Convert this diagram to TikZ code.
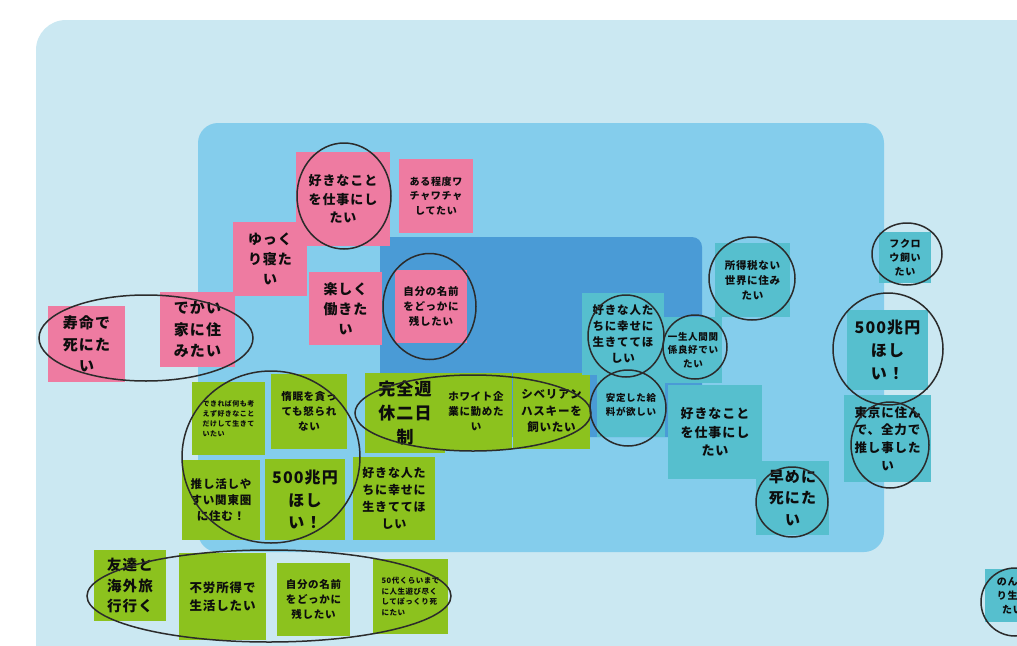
\documentclass[tikz,border=0pt]{standalone}
\usepackage{fontspec}
\newfontfamily\jpfont{Noto Sans CJK JP}[LetterSpace=7]
\definecolor{bgouter}{HTML}{CBE8F2}
\definecolor{bgmid}{HTML}{84CDEC}
\definecolor{bginner}{HTML}{4A9BD6}
\definecolor{notepink}{HTML}{EE7BA1}
\definecolor{notegreen}{HTML}{8CC21E}
\definecolor{noteteal}{HTML}{56BFCE}
\definecolor{inkdark}{HTML}{2B2B2B}
\newcommand\fz[1]{\jpfont\bfseries\fontsize{#1}{\fpeval{#1*1.42}}\selectfont}
\tikzset{
  note/.style={inner sep=0pt, align=center, text=black!95},
  pinknote/.style={note, fill=notepink},
  greennote/.style={note, fill=notegreen},
  tealnote/.style={note, fill=noteteal},
  ring/.style={draw=inkdark, line width=1.5pt},
}
\begin{document}
\begin{tikzpicture}[x=1pt,y=-1pt]
\useasboundingbox (0,0) rectangle (1017,645);
\clip (0,0) rectangle (1017,645);
% background areas
\fill[bgouter, rounded corners=30pt] (36,20) rectangle (1080,700);
\fill[bgmid, rounded corners=20pt] (198,123) rectangle (884,552);
\fill[bginner, rounded corners=10pt] (380,237) rectangle (702,437);

% pink notes
\node[pinknote, minimum width=94, minimum height=94, font=\fz{13}] (p1) at (343,199) {好きなこと\\を仕事にし\\たい};
\node[pinknote, minimum width=74, minimum height=74, font=\fz{10}] (p2) at (436,196) {ある程度ワ\\チャワチャ\\してたい};
\node[pinknote, minimum width=74, minimum height=74, font=\fz{14}] (p3) at (270,259) {ゆっく\\り寝た\\い};
\node[pinknote, minimum width=73, minimum height=73, font=\fz{14}] (p4) at (345.5,308.5) {楽しく\\働きた\\い};
\node[pinknote, minimum width=72, minimum height=73, font=\fz{10.5}] (p5) at (431,306.5) {自分の名前\\をどっかに\\残したい};
\node[pinknote, minimum width=75, minimum height=75, font=\fz{15}] (p6) at (197.5,329.5) {でかい\\家に住\\みたい};
\node[pinknote, minimum width=77, minimum height=76, font=\fz{15}] (p7) at (86.5,344) {寿命で\\死にた\\い};

% green notes
\node[greennote, minimum width=73, minimum height=73, font=\fz{7}, align=left] (g1) at (228.5,418.5) {できれば何も考\\えず好きなこと\\だけして生きて\\いたい};
\node[greennote, minimum width=76, minimum height=75, font=\fz{10.5}] (g2) at (309,411.5) {惰眠を貪っ\\ても怒られ\\ない};
\node[greennote, minimum width=78, minimum height=80, font=\fz{11.5}] (g3) at (221,500) {推し活しや\\すい関東圏\\に住む！};
\node[greennote, minimum width=80, minimum height=81, font=\fz{16}] (g4) at (305,499.5) {500兆円\\ほし\\い！};
\node[greennote, minimum width=82, minimum height=83, font=\fz{12}] (g5) at (394,498.5) {好きな人た\\ちに幸せに\\生きててほ\\しい};
\node[greennote, minimum width=72, minimum height=77, font=\fz{10.5}] (g7) at (476,411.5) {ホワイト企\\業に勤めた\\い};
\node[greennote, minimum width=80, minimum height=80, font=\fz{17}] (g6) at (405,413) {完全週\\休二日\\制};
\node[greennote, minimum width=77, minimum height=76, font=\fz{11.5}] (g8) at (551.5,411) {シベリアン\\ハスキーを\\飼いたい};
\node[greennote, minimum width=72, minimum height=71, font=\fz{14.5}] (g9) at (130,585.5) {友達と\\海外旅\\行行く};
\node[greennote, minimum width=87, minimum height=87, font=\fz{12.5}] (g10) at (222.5,596.5) {不労所得で\\生活したい};
\node[greennote, minimum width=73, minimum height=73, font=\fz{10.5}] (g11) at (313.5,599.5) {自分の名前\\をどっかに\\残したい};
\node[greennote, minimum width=75, minimum height=75, font=\fz{7.5}, align=left] (g12) at (410.5,596.5) {50代くらいまで\\に人生遊び尽く\\してぽっくり死\\にたい};

% teal notes
\node[tealnote, minimum width=82, minimum height=82, font=\fz{11.5}] (t1) at (623,334) {好きな人た\\ちに幸せに\\生きててほ\\しい};
\node[tealnote, minimum width=68, minimum height=64, font=\fz{9.5}] (t2) at (631,405) {安定した給\\料が欲しい};
\node[tealnote, minimum width=58, minimum height=66, font=\fz{9.5}] (t3) at (693,350) {一生人間関\\係良好でい\\たい};
\node[tealnote, minimum width=75, minimum height=74, font=\fz{10.5}] (t4) at (752.5,280) {所得税ない\\世界に住み\\たい};
\node[tealnote, minimum width=94, minimum height=94, font=\fz{13}] (t5) at (715,432) {好きなこと\\を仕事にし\\たい};
\node[tealnote, minimum width=73, minimum height=74, font=\fz{15}] (t6) at (792.5,498) {早めに\\死にた\\い};
\node[tealnote, minimum width=52, minimum height=51, font=\fz{10}] (t7) at (905,257.5) {フクロ\\ウ飼い\\たい};
\node[tealnote, minimum width=81, minimum height=80, font=\fz{16}] (t8) at (887.5,350) {500兆円\\ほし\\い！};
\node[tealnote, minimum width=87, minimum height=87, font=\fz{12.5}] (t9) at (887.5,438.5) {東京に住ん\\で、全力で\\推し事した\\い};
\node[tealnote, minimum width=55, minimum height=53, font=\fz{10}] (t10) at (1012.5,595.5) {のんび\\り生き\\たい};

% hand-drawn rings
\draw[ring] (344,196) ellipse [x radius=47, y radius=53];
\draw[ring] (429.5,306.5) ellipse [x radius=46.5, y radius=53];
\draw[ring] (146,338) ellipse [x radius=107, y radius=43];
\draw[ring] (271,457) ellipse [x radius=89, y radius=86];
\draw[ring] (473,413) ellipse [x radius=118, y radius=38];
\draw[ring] (269,596) ellipse [x radius=182, y radius=46];
\draw[ring] (626,336) ellipse [x radius=38, y radius=41];
\draw[ring] (628,408) ellipse [x radius=38, y radius=38];
\draw[ring] (695,347) ellipse [x radius=32, y radius=32];
\draw[ring] (752,278.5) ellipse [x radius=43, y radius=41.5];
\draw[ring] (792,502) ellipse [x radius=36, y radius=35];
\draw[ring] (907,254) ellipse [x radius=35, y radius=31];
\draw[ring] (888,349) ellipse [x radius=55, y radius=56];
\draw[ring] (890,445) ellipse [x radius=39, y radius=43];
\draw[ring] (1015,602) ellipse [x radius=34, y radius=34];
\end{tikzpicture}
\end{document}
